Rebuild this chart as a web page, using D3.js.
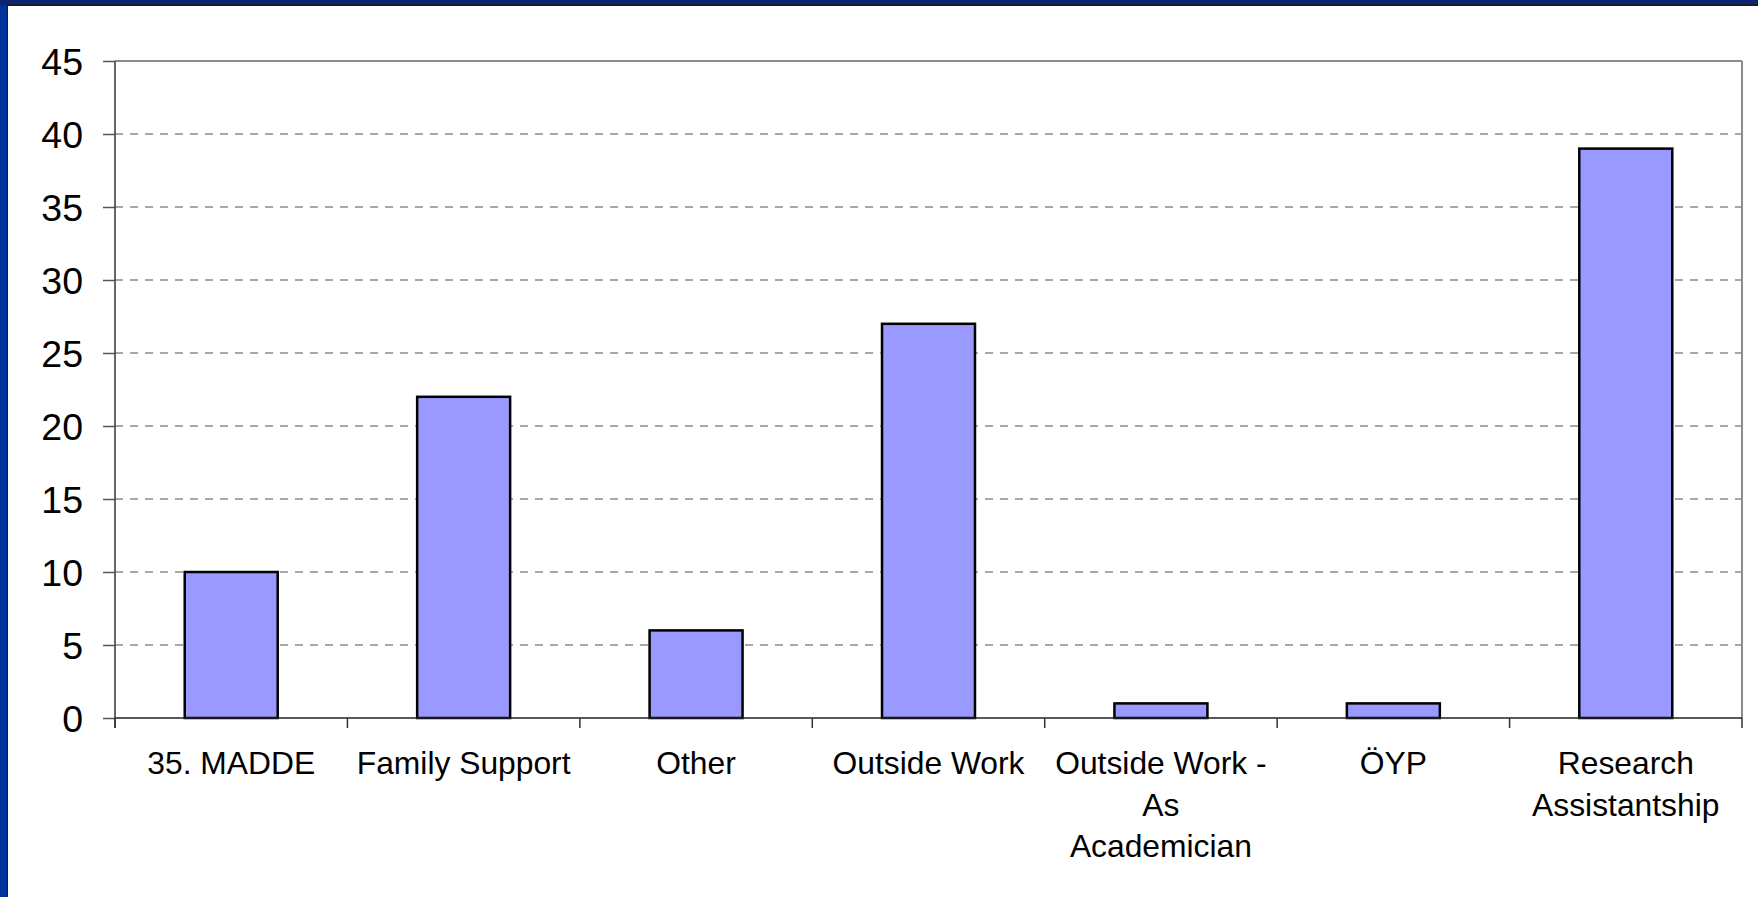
<!DOCTYPE html>
<html>
<head>
<meta charset="utf-8">
<script src="https://cdn.jsdelivr.net/npm/d3@7"></script>
<style>
  html, body { margin: 0; padding: 0; background: #ffffff; }
  svg { display: block; }
  text { font-family: "Liberation Sans", Arial, sans-serif; fill: #000; }
</style>
</head>
<body>
<svg id="chart" width="1758" height="897"></svg>
<script>
const categories = ["35. MADDE", "Family Support", "Other", "Outside Work", "Outside Work - As Academician", "ÖYP", "Research Assistantship"];
const categoryLines = [["35. MADDE"], ["Family Support"], ["Other"], ["Outside Work"], ["Outside Work -", "As", "Academician"], ["ÖYP"], ["Research", "Assistantship"]];
const values = [10, 22, 6, 27, 1, 1, 39];
const yTicks = [0, 5, 10, 15, 20, 25, 30, 35, 40, 45];

const W = 1758, H = 897;
const svg = d3.select("#chart");

// frame
svg.append("rect").attr("x", 0).attr("y", 0).attr("width", W).attr("height", H).attr("fill", "#003399");
svg.append("rect").attr("x", 0).attr("y", 0).attr("width", W).attr("height", 5).attr("fill", "#0a2670");
svg.append("rect").attr("x", 7).attr("y", 4).attr("width", W - 7).attr("height", H - 4).attr("fill", "#1a1a2a");
svg.append("rect").attr("x", 8).attr("y", 6).attr("width", W - 8).attr("height", H - 6).attr("fill", "#ffffff");

const plot = { left: 115, top: 61, right: 1742, bottom: 718 };

const x = d3.scaleBand().domain(categories).range([plot.left, plot.right]).padding(0);
const y = d3.scaleLinear().domain([0, 45]).range([plot.bottom, plot.top]);

const g = svg.append("g");

// gridlines
g.selectAll("line.grid").data(yTicks.filter(t => t > 0 && t < 45)).enter().append("line")
  .attr("x1", plot.left).attr("x2", plot.right)
  .attr("y1", d => y(d)).attr("y2", d => y(d))
  .attr("stroke", "#8c8c8c").attr("stroke-width", 1.5).attr("stroke-dasharray", "8,7");

// top & right border
g.append("line").attr("x1", plot.left).attr("x2", plot.right).attr("y1", y(45)).attr("y2", y(45))
  .attr("stroke", "#8c8c8c").attr("stroke-width", 2);
g.append("line").attr("x1", plot.right).attr("x2", plot.right).attr("y1", y(45)).attr("y2", plot.bottom)
  .attr("stroke", "#8c8c8c").attr("stroke-width", 2);

// bars
const barW = x.bandwidth() * 0.4;
g.selectAll("rect.bar").data(values).enter().append("rect")
  .attr("x", (d, i) => x(categories[i]) + x.bandwidth() / 2 - barW / 2)
  .attr("y", d => y(d))
  .attr("width", barW)
  .attr("height", d => y(0) - y(d))
  .attr("fill", "#9999ff").attr("stroke", "#000").attr("stroke-width", 2.5);

// y axis
const yAxis = d3.axisLeft(y).tickValues(yTicks).tickSize(12).tickPadding(20);
const ya = g.append("g").attr("transform", `translate(${plot.left},0)`).call(yAxis);
ya.select(".domain").attr("stroke", "#333").attr("stroke-width", 1.5).attr("d", `M0,${plot.top}V${plot.bottom + 10}`);
ya.selectAll(".tick line").attr("stroke", "#555").attr("stroke-width", 1.5);
ya.selectAll(".tick text").attr("font-size", 37.5).attr("font-family", "Liberation Sans, Arial, sans-serif").attr("fill", "#000").attr("dy", "0.36em");

// x axis baseline
g.append("line").attr("x1", plot.left).attr("x2", plot.right).attr("y1", plot.bottom).attr("y2", plot.bottom)
  .attr("stroke", "#222").attr("stroke-width", 1.5);

// x ticks at band boundaries
const bounds = categories.map(c => x(c)).concat([plot.right]);
g.selectAll("line.xtick").data(bounds).enter().append("line")
  .attr("x1", d => d).attr("x2", d => d)
  .attr("y1", plot.bottom).attr("y2", plot.bottom + 10)
  .attr("stroke", "#333").attr("stroke-width", 1.5);

// x labels
const xl = g.selectAll("text.xlab").data(categoryLines).enter().append("text")
  .attr("text-anchor", "middle")
  .attr("font-size", 31.8)
  .attr("x", (d, i) => x(categories[i]) + x.bandwidth() / 2)
  .attr("y", 774);
xl.selectAll("tspan").data(d => d).enter().append("tspan")
  .attr("x", function() { return d3.select(this.parentNode).attr("x"); })
  .attr("dy", (d, i) => i === 0 ? 0 : 41.5)
  .text(d => d);
</script>
</body>
</html>
